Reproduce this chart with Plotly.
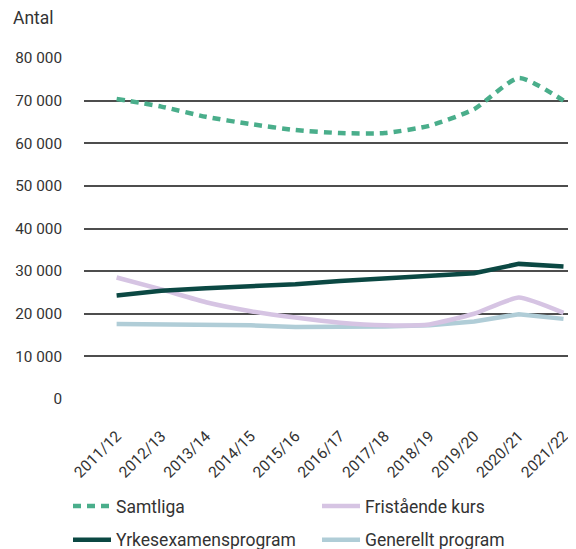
import plotly.graph_objects as go

years = ["2011/12", "2012/13", "2013/14", "2014/15", "2015/16", "2016/17",
         "2017/18", "2018/19", "2019/20", "2020/21", "2021/22"]
samtliga = [70400, 68600, 66200, 64500, 63100, 62400, 62400, 64100, 68000, 75300, 70000]
yrkes = [24300, 25400, 26000, 26500, 26900, 27700, 28300, 29100, 29500, 31700, 31100]
fristaende = [28500, 25700, 22700, 20600, 19100, 17900, 17300, 17500, 20000, 23800, 20200]
generellt = [17600, 17500, 17500, 17300, 16900, 16900, 17000, 17300, 18200, 19900, 18800]
y_ticks = [0, 10000, 20000, 30000, 40000, 50000, 60000, 70000, 80000]
y_tick_text = ["0", "10 000", "20 000", "30 000", "40 000", "50 000", "60 000", "70 000", "80 000"]

FONT = "Roboto"
TXT = "#333333"
W, H = 568, 541  # page body adds an 8px offset

fig = go.Figure()

fig.add_trace(go.Scatter(x=years, y=generellt, name="Generellt program", mode="lines",
                         line=dict(color="#b0cdd7", width=4.5), legend="legend2",
                         legendgroup="g", legendrank=2))
fig.add_trace(go.Scatter(x=years, y=fristaende, name="Fristående kurs", mode="lines",
                         line=dict(color="#d6c4e3", width=4.5, shape="spline", smoothing=0.5),
                         legend="legend2", legendgroup="f", legendrank=1))
fig.add_trace(go.Scatter(x=years, y=yrkes, name="Yrkesexamensprogram", mode="lines",
                         line=dict(color="#0b4843", width=4.5), legend="legend",
                         legendgroup="y", legendrank=2))
fig.add_trace(go.Scatter(x=years, y=samtliga, name="Samtliga", mode="lines",
                         line=dict(color="#4aae8b", width=4.5, dash="8px,6px",
                                   shape="spline", smoothing=0.6),
                         legend="legend", legendgroup="s", legendrank=1))

leg_common = dict(orientation="v", xanchor="left", yanchor="top",
                  xref="container", yref="container",
                  font=dict(family=FONT, size=17.5, color=TXT),
                  tracegroupgap=8, itemwidth=38,
                  bgcolor="rgba(0,0,0,0)", traceorder="grouped")

fig.update_layout(
    width=W, height=H,
    margin=dict(l=76, r=0, t=50, b=150, autoexpand=False),
    paper_bgcolor="white", plot_bgcolor="white",
    showlegend=True,
    title=dict(text="Antal", x=5 / W, xanchor="left", xref="container",
               y=1 - 10 / H, yanchor="middle", yref="container",
               font=dict(family=FONT, size=17.5, color=TXT)),
    legend=dict(x=60 / W, y=1 - 480 / H, **leg_common),
    legend2=dict(x=309 / W, y=1 - 480 / H, **leg_common),
    xaxis=dict(type="category", range=[-0.73, 10.28], showgrid=False, showline=False,
               zeroline=False, ticks="", tickangle=-45, automargin=False,
               ticklabelstandoff=24,
               tickfont=dict(family=FONT, size=15.5, color=TXT)),
    yaxis=dict(range=[0, 80000], tickvals=y_ticks, ticktext=y_tick_text,
               showgrid=True, gridcolor="#4d4d4d", gridwidth=1.5, zeroline=False,
               showline=False, ticks="", ticklabelstandoff=21, automargin=False,
               tickfont=dict(family=FONT, size=15.3, color=TXT)),
)

fig.write_html("out.html")
